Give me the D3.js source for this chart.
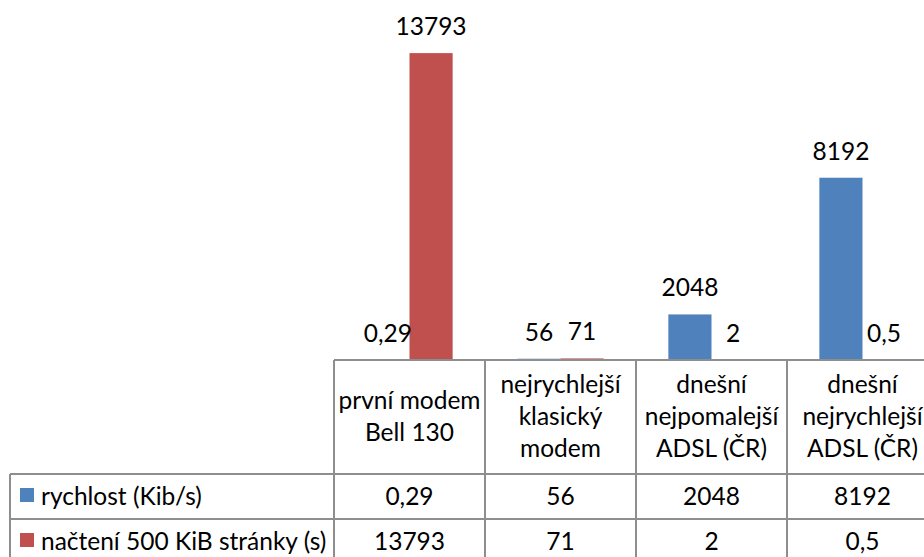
<!DOCTYPE html>
<html>
<head>
<meta charset="utf-8">
<script src="https://cdn.jsdelivr.net/npm/d3@7"></script>
<style>
  body { margin: 0; background: #fff; }
  svg { display: block; }
</style>
</head>
<body>
<svg class="chart" width="924" height="557"></svg>
<script>
// chart data
const categories = [
  ['první modem', 'Bell 130'],
  ['nejrychlejší', 'klasický', 'modem'],
  ['dnešní', 'nejpomalejší', 'ADSL (ČR)'],
  ['dnešní', 'nejrychlejší', 'ADSL (ČR)']
];
const seriesNames = ['rychlost (Kib/s)', 'načtení 500 KiB stránky (s)'];
const rychlost = [0.29, 56, 2048, 8192];
const nacteni = [13793, 71, 2, 0.5];
const seriesColors = ['#4F81BD', '#C0504D'];
const yMax = 16000;

function drawChart(){
  const svg = d3.select('svg.chart');
  const fontFam = "Lato, 'Open Sans', sans-serif";
  const fontSize = '24.5px';
  const lineCol = '#8e8e8e';

  const plotLeft = 334;
  const plotRight = 938;
  const baseY = 360;
  const headerBottom = 474;
  const rowH = 45;
  const legendLeft = 10;

  const fmt = d3.formatLocale({decimal: ',', thousands: '', grouping: [3], currency: ['', '']}).format('~f');

  const values = [rychlost, nacteni];

  const x = d3.scaleBand()
    .domain(d3.range(categories.length))
    .range([plotLeft, plotRight])
    .paddingInner(0)
    .paddingOuter(0);

  const xSub = d3.scaleBand()
    .domain(d3.range(seriesNames.length))
    .range([0, x.bandwidth()])
    .paddingInner(0)
    .paddingOuter(0.75);

  const y = d3.scaleLinear()
    .domain([0, yMax])
    .range([baseY, 4]);

  // bars
  const barData = [];
  values.forEach((arr, s) => arr.forEach((v, c) => barData.push({s, c, v})));

  svg.append('g')
    .attr('class', 'bars')
    .selectAll('rect')
    .data(barData)
    .enter()
    .append('rect')
    .attr('x', d => x(d.c) + xSub(d.s))
    .attr('y', d => y(d.v))
    .attr('width', xSub.bandwidth())
    .attr('height', d => baseY - y(d.v))
    .style('fill', d => seriesColors[d.s]);

  // data labels
  svg.append('g')
    .attr('class', 'labels')
    .selectAll('text')
    .data(barData)
    .enter()
    .append('text')
    .attr('x', d => x(d.c) + xSub(d.s) + xSub.bandwidth() / 2)
    .attr('y', d => y(d.v) - 18)
    .text(d => fmt(d.v))
    .style('text-anchor', 'middle')
    .style('font-family', fontFam)
    .style('font-size', fontSize)
    .style('fill', '#000');

  // data table grid
  const grid = svg.append('g').attr('class', 'grid')
    .style('stroke', lineCol)
    .style('stroke-width', 1.3)
    .style('shape-rendering', 'crispEdges');

  const rowLines = [baseY, headerBottom, headerBottom + rowH, headerBottom + 2 * rowH];
  rowLines.forEach((ly, i) => {
    grid.append('line')
      .attr('x1', i === 0 ? plotLeft : legendLeft)
      .attr('x2', plotRight)
      .attr('y1', ly)
      .attr('y2', ly);
  });

  d3.range(categories.length + 1).forEach(i => {
    const lx = i < categories.length ? x(i) : plotRight;
    grid.append('line')
      .attr('x1', lx).attr('x2', lx)
      .attr('y1', baseY).attr('y2', headerBottom + 2 * rowH);
  });

  grid.append('line')
    .attr('x1', legendLeft).attr('x2', legendLeft)
    .attr('y1', headerBottom).attr('y2', headerBottom + 2 * rowH);

  // header (category names)
  const lineH = 32;
  const headMid = (baseY + headerBottom) / 2;
  const header = svg.append('g').attr('class', 'header');
  categories.forEach((lines, c) => {
    const t = header.append('text')
      .attr('x', x(c) + x.bandwidth() / 2)
      .attr('y', headMid - (lines.length - 1) * lineH / 2 + 8)
      .style('text-anchor', 'middle')
      .style('font-family', fontFam)
      .style('font-size', fontSize)
      .style('fill', '#000');
    lines.forEach((ln, i) => {
      t.append('tspan')
        .attr('x', x(c) + x.bandwidth() / 2)
        .attr('dy', i === 0 ? 0 : lineH)
        .text(ln);
    });
  });

  // value rows
  const rows = svg.append('g').attr('class', 'rows');
  values.forEach((arr, s) => {
    const rowTop = headerBottom + s * rowH;
    rows.selectAll(`text.r${s}`)
      .data(arr)
      .enter()
      .append('text')
      .attr('class', `r${s}`)
      .attr('x', (d, c) => x(c) + x.bandwidth() / 2)
      .attr('y', rowTop + rowH / 2 + 8)
      .text(d => fmt(d))
      .style('text-anchor', 'middle')
      .style('font-family', fontFam)
      .style('font-size', fontSize)
      .style('fill', '#000');

    // legend key
    rows.append('rect')
      .attr('x', 20)
      .attr('y', rowTop + 14)
      .attr('width', 14)
      .attr('height', 14)
      .style('fill', seriesColors[s]);

    rows.append('text')
      .attr('x', 41)
      .attr('y', rowTop + rowH / 2 + 8)
      .text(seriesNames[s])
      .style('font-family', fontFam)
      .style('font-size', fontSize)
      .style('fill', '#000');
  });
}

drawChart();
</script>
</body>
</html>
